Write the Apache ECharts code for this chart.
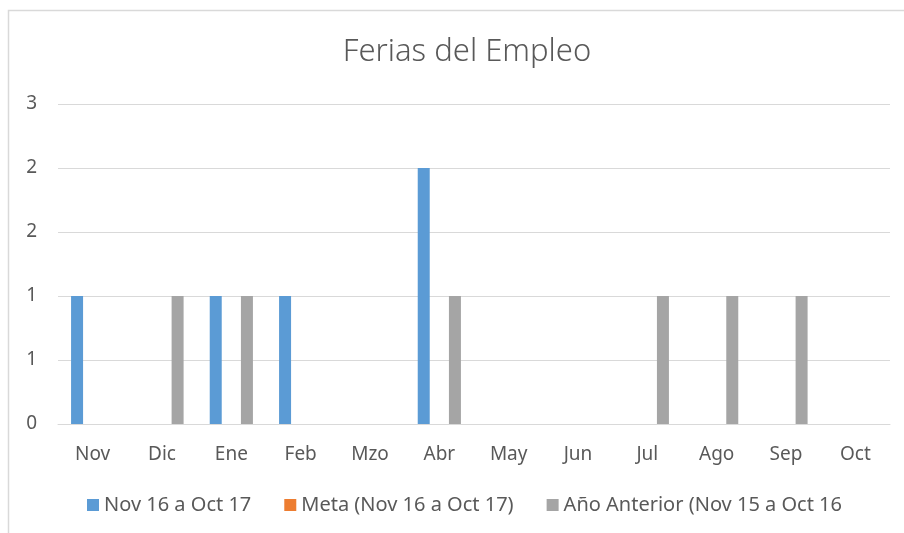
<!DOCTYPE html>
<html>
<head>
<meta charset="utf-8">
<style>
  html, body { margin: 0; padding: 0; background: #fff; }
  #chart { width: 904px; height: 533px; }
</style>
<script src="https://cdn.jsdelivr.net/npm/echarts@6/dist/echarts.min.js"></script>
</head>
<body>
<div id="chart"></div>
<script>
const months = ['Nov', 'Dic', 'Ene', 'Feb', 'Mzo', 'Abr', 'May', 'Jun', 'Jul', 'Ago', 'Sep', 'Oct']
const actual = [1, 0, 1, 1, 0, 2, 0, 0, 0, 0, 0, 0]
const meta = [0, 0, 0, 0, 0, 0, 0, 0, 0, 0, 0, 0]
const previous = [0, 1, 1, 0, 0, 1, 0, 0, 1, 1, 1, 0]
const seriesNames = ['Nov 16 a Oct 17', 'Meta (Nov 16 a Oct 17)', 'Año Anterior (Nov 15 a Oct 16']

const chart = echarts.init(document.getElementById('chart'))
const font = 'Noto Sans'
const textColor = '#595959'

const option = {
  animation: false,
  color: ['#5B9BD5', '#ED7D31', '#A5A5A5'],
  textStyle: { fontFamily: font },
  graphic: [
    {
      // marco del gráfico
      type: 'rect',
      shape: { x: 8.5, y: 10.5, width: 920, height: 560 },
      style: { fill: 'none', stroke: '#d9d9d9', lineWidth: 1.5 },
      silent: true
    }
  ],
  title: {
    text: 'Ferias del Empleo',
    left: 462,
    top: 32,
    textAlign: 'center',
    textStyle: { fontFamily: font, fontSize: 31, fontWeight: 300, color: textColor }
  },
  legend: {
    data: seriesNames,
    left: 82,
    top: 490,
    itemWidth: 12,
    itemHeight: 12,
    itemGap: 33,
    icon: 'rect',
    textStyle: { fontFamily: font, fontSize: 20, color: textColor }
  },
  grid: { left: 58, right: 14, top: 104, bottom: 109, containLabel: false },
  xAxis: {
    type: 'category',
    data: months,
    axisLine: { lineStyle: { color: '#d9d9d9', width: 1 } },
    axisTick: { show: false },
    axisLabel: { color: textColor, fontSize: 19, margin: 21, fontFamily: font }
  },
  yAxis: {
    type: 'value',
    min: 0,
    max: 2.5,
    interval: 0.5,
    axisLine: { show: false },
    axisTick: { show: false },
    splitLine: { lineStyle: { color: '#d9d9d9', width: 1 } },
    axisLabel: {
      color: textColor,
      fontSize: 19,
      margin: 21,
      fontFamily: font,
      formatter: v => String(Math.round(v))
    }
  },
  series: [
    { name: seriesNames[0], type: 'bar', data: actual, barWidth: 12, barGap: '30%' },
    { name: seriesNames[1], type: 'bar', data: meta, barWidth: 12, barGap: '30%' },
    { name: seriesNames[2], type: 'bar', data: previous, barWidth: 12, barGap: '30%' }
  ]
}
chart.setOption(option)
</script>
</body>
</html>
